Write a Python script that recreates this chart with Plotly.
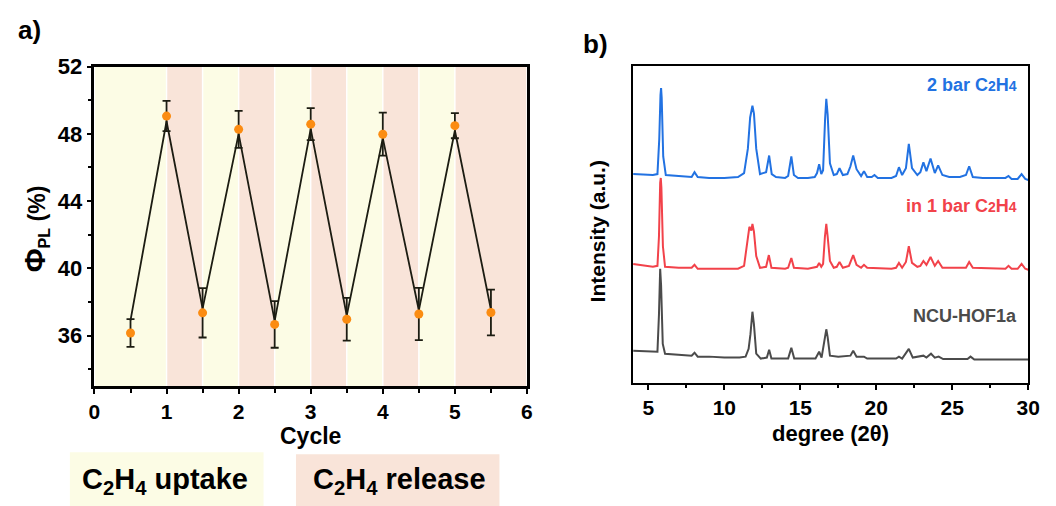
import plotly.graph_objects as go

W, H = 1056, 506

# ---------------- Panel a data ----------------
cycle_x = [0.5, 1.0, 1.5, 2.0, 2.5, 3.0, 3.5, 4.0, 4.5, 5.0, 5.5]
phi_points = [36.15, 49.06, 37.35, 48.27, 36.66, 48.58, 36.97, 47.98, 37.28, 48.49, 37.37]
phi_err = [0.83, 0.90, 1.47, 1.10, 1.39, 0.95, 1.27, 1.28, 1.55, 0.75, 1.36]
phi_line = [36.9, 48.75, 37.6, 48.0, 36.87, 48.3, 37.18, 47.75, 37.5, 48.2, 37.55]

uptake_start = [0.0, 1.5, 2.5, 3.5, 4.5]
uptake_end = [1.0, 2.0, 3.0, 4.0, 5.0]
release_start = [1.0, 2.0, 3.0, 4.0, 5.0]
release_end = [1.5, 2.5, 3.5, 4.5, 6.0]

# ---------------- Panel b data (2θ, intensity a.u.) ----------------
blue_x = [4.0, 5.3, 5.6, 5.72, 5.80, 5.84, 5.88, 5.98, 6.15, 7.0, 7.85, 8.04, 8.25, 9.0, 10.0,
          10.9, 11.3, 11.55, 11.7, 11.85, 11.95, 12.1, 12.35, 12.55, 12.75, 12.95, 13.12, 13.4,
          14.0, 14.2, 14.41, 14.58, 14.85, 15.5, 15.95, 16.1, 16.24, 16.38, 16.5, 16.63, 16.71,
          16.8, 16.95, 17.2, 17.4, 17.58, 17.8, 18.1, 18.3, 18.48, 18.7, 19.0, 19.19, 19.4, 19.7,
          19.88, 20.1, 21.0, 21.3, 21.49, 21.7, 21.95, 22.14, 22.35, 22.7, 22.9, 23.1, 23.3,
          23.57, 23.85, 24.07, 24.35, 24.8, 25.5, 25.9, 26.11, 26.35, 27.0, 28.0, 28.5, 28.7,
          28.9, 29.3, 29.56, 29.8, 30.0]
blue_y = [214, 213, 214, 250, 295, 302, 292, 232, 213, 212, 211, 216, 211, 210, 210,
          211, 215, 240, 272, 284, 276, 240, 214, 215, 216, 233, 214, 211,
          210, 212, 232, 213, 210, 210, 211, 215, 224, 214, 218, 270, 291,
          275, 225, 213, 214, 220, 213, 214, 222, 233, 219, 212, 217, 211, 211,
          213, 210, 210, 212, 221, 213, 220, 245, 220, 213, 216, 226, 217,
          230, 215, 223, 213, 211, 211, 213, 222, 211, 210, 210, 210, 212,
          209, 209, 214, 209, 208]

red_x = [4.0, 5.3, 5.6, 5.70, 5.78, 5.82, 5.86, 5.96, 6.1, 7.0, 7.85, 8.04, 8.25, 9.0, 10.0,
         10.9, 11.3, 11.5, 11.65, 11.72, 11.78, 11.85, 11.95, 12.1, 12.35, 12.75, 12.93, 13.1,
         14.0, 14.2, 14.41, 14.58, 15.5, 16.1, 16.24, 16.38, 16.5, 16.62, 16.71, 16.8, 16.95,
         17.2, 17.4, 17.58, 17.8, 18.2, 18.48, 18.7, 19.0, 19.19, 19.4, 21.0, 21.3, 21.49, 21.7,
         21.95, 22.14, 22.35, 22.7, 22.9, 23.1, 23.3, 23.57, 23.85, 24.07, 24.35, 25.9, 26.11,
         26.35, 28.5, 28.7, 28.9, 29.3, 29.56, 29.8, 30.0]
red_y = [122, 119, 120, 150, 205, 210, 200, 140, 119, 118, 118, 121, 117, 117, 117,
         117, 120, 140, 160, 158, 156, 163, 155, 130, 118, 119, 131, 118,
         117, 118, 128, 118, 117, 119, 123, 119, 122, 150, 163, 150, 125,
         118, 119, 124, 118, 120, 131, 121, 118, 121, 118, 117, 118, 123, 118,
         124, 140, 123, 119, 120, 125, 121, 129, 120, 125, 118, 118, 124,
         118, 117, 120, 117, 117, 122, 117, 116]

gray_x = [4.0, 5.3, 5.6, 5.7, 5.78, 5.84, 5.95, 6.1, 7.0, 7.85, 8.04, 8.25, 9.0, 10.0, 11.0,
          11.4, 11.6, 11.72, 11.85, 11.95, 12.1, 12.4, 12.8, 12.95, 13.1, 14.2, 14.41, 14.6,
          16.0, 16.24, 16.4, 16.6, 16.71, 16.8, 16.95, 17.5, 18.3, 18.48, 18.7, 19.19, 19.4,
          21.3, 21.49, 21.7, 22.14, 22.4, 23.1, 23.3, 23.6, 23.85, 24.1, 24.4, 26.0, 26.2,
          26.45, 30.0]
gray_y = [33, 32, 32, 70, 117, 100, 40, 30, 29, 28, 31, 27, 27, 26, 26,
          27, 35, 50, 73, 60, 30, 25, 26, 34, 25, 25, 36, 25,
          25, 32, 26, 45, 55, 47, 28, 27, 28, 33, 27, 27, 25,
          25, 27, 25, 35, 26, 28, 26, 30, 26, 27, 24.5, 24.5, 27,
          24, 24]

# ---------------- helpers ----------------
def px(x):
    return x / W

def py(y):
    return 1 - y / H

FONT = "Liberation Sans, Arial, sans-serif"

fig = go.Figure()

# Panel a traces
fig.add_trace(go.Scatter(x=cycle_x, y=phi_line, mode="lines",
                         line=dict(color="#1c1c12", width=1.8),
                         xaxis="x", yaxis="y", showlegend=False, hoverinfo="skip"))
fig.add_trace(go.Scatter(x=cycle_x, y=phi_points, mode="markers",
                         marker=dict(color="#fb8c12", size=9),
                         error_y=dict(type="data", array=phi_err, visible=True,
                                      color="#1c1c12", thickness=1.8, width=4),
                         xaxis="x", yaxis="y", showlegend=False))

# Panel b traces
fig.add_trace(go.Scatter(x=blue_x, y=blue_y, mode="lines",
                         line=dict(color="#2272e2", width=2),
                         xaxis="x2", yaxis="y2", showlegend=False))
fig.add_trace(go.Scatter(x=red_x, y=red_y, mode="lines",
                         line=dict(color="#f2424a", width=2),
                         xaxis="x2", yaxis="y2", showlegend=False))
fig.add_trace(go.Scatter(x=gray_x, y=gray_y, mode="lines",
                         line=dict(color="#4b4b4b", width=2),
                         xaxis="x2", yaxis="y2", showlegend=False))

UPTAKE = "#fcfce5"
RELEASE = "#f9e4d9"
shapes = []
for s, e in zip(uptake_start, uptake_end):
    shapes.append(dict(type="rect", xref="x", yref="y domain", x0=s + 0.01, x1=e - 0.01,
                       y0=0, y1=1, fillcolor=UPTAKE, line=dict(width=0), layer="below"))
for s, e in zip(release_start, release_end):
    shapes.append(dict(type="rect", xref="x", yref="y domain", x0=s + 0.01, x1=e - 0.01,
                       y0=0, y1=1, fillcolor=RELEASE, line=dict(width=0), layer="below"))
# legend boxes below panel a
shapes.append(dict(type="rect", xref="paper", yref="paper", x0=px(65), x1=px(262),
                   y0=py(506), y1=py(451), fillcolor=UPTAKE, line=dict(width=0), layer="below"))
shapes.append(dict(type="rect", xref="paper", yref="paper", x0=px(295), x1=px(502),
                   y0=py(506), y1=py(453), fillcolor=RELEASE, line=dict(width=0), layer="below"))

def ann(text, x, y, size, color="black", angle=0, xanchor="center", bold=True):
    return dict(text=text, x=px(x), y=py(y), xref="paper", yref="paper", showarrow=False,
                xanchor=xanchor, yanchor="middle", textangle=angle,
                font=dict(family=FONT, size=size, color=color, weight="bold" if bold else "normal"))

small = "<span style='font-size:14px'>{}</span>"
annotations = [
    ann("a)", 24, 18, 26),
    ann("b)", 600, 33, 26),
    ann("<span style='font-size:29px'>Φ</span><sub>PL</sub> (%)", 30, 222, 23, angle=-90),
    ann("Cycle", 310, 434, 23),
    ann("degree (2θ)", 839, 432, 22),
    ann("Intensity (a.u.)", 602, 225, 21, angle=-90),
    ann("C<sub>2</sub>H<sub>4</sub> uptake", 162, 480, 29),
    ann("C<sub>2</sub>H<sub>4</sub> release", 400, 480, 29),
    ann("2 bar C" + small.format("2") + "H" + small.format("4"), 1031, 75, 18,
        color="#2272e2", xanchor="right"),
    ann("in 1 bar C" + small.format("2") + "H" + small.format("4"), 1031, 199, 18,
        color="#f2424a", xanchor="right"),
    ann("NCU-HOF1a", 1031, 311, 18, color="#4b4b4b", xanchor="right"),
]

axis_common = dict(showgrid=False, zeroline=False, showline=True, linecolor="black",
                   mirror=True, ticks="outside", tickcolor="black", tickwidth=2)
tick21 = dict(family=FONT, size=21, color="black", weight="bold")
tick22 = dict(family=FONT, size=22, color="black", weight="bold")

fig.update_layout(
    width=W, height=H, autosize=False,
    margin=dict(l=0, r=0, t=0, b=0),
    paper_bgcolor="white", plot_bgcolor="white",
    xaxis=dict(domain=[px(90), px(530)], range=[0, 6], tick0=0, dtick=1, ticklen=5,
               linewidth=2.5, anchor="y", tickfont=tick21,
               minor=dict(dtick=0.5, tick0=0, ticks="outside", ticklen=4, tickwidth=2,
                          tickcolor="black", showgrid=False),
               **axis_common),
    yaxis=dict(domain=[py(383), py(56)], range=[33, 52], tick0=0, dtick=4, ticklen=5,
               linewidth=2.5, anchor="x", tickfont=tick22,
               minor=dict(dtick=2, tick0=0, ticks="outside", ticklen=4, tickwidth=2,
                          tickcolor="black", showgrid=False),
               **axis_common),
    xaxis2=dict(domain=[px(638), px(1040)], range=[4, 30], tick0=0, dtick=5, ticklen=5,
                linewidth=2, anchor="y2", tickfont=tick21,
                minor=dict(dtick=2.5, tick0=0, ticks="outside", ticklen=3, tickwidth=2,
                           tickcolor="black", showgrid=False),
                **axis_common),
    yaxis2=dict(domain=[py(380), py(55)], range=[0, 325], showticklabels=False,
                showgrid=False, zeroline=False, showline=True, linecolor="black",
                linewidth=2, mirror=True, ticks="", anchor="x2"),
    shapes=shapes,
    annotations=annotations,
)

fig.write_html("out.html")
